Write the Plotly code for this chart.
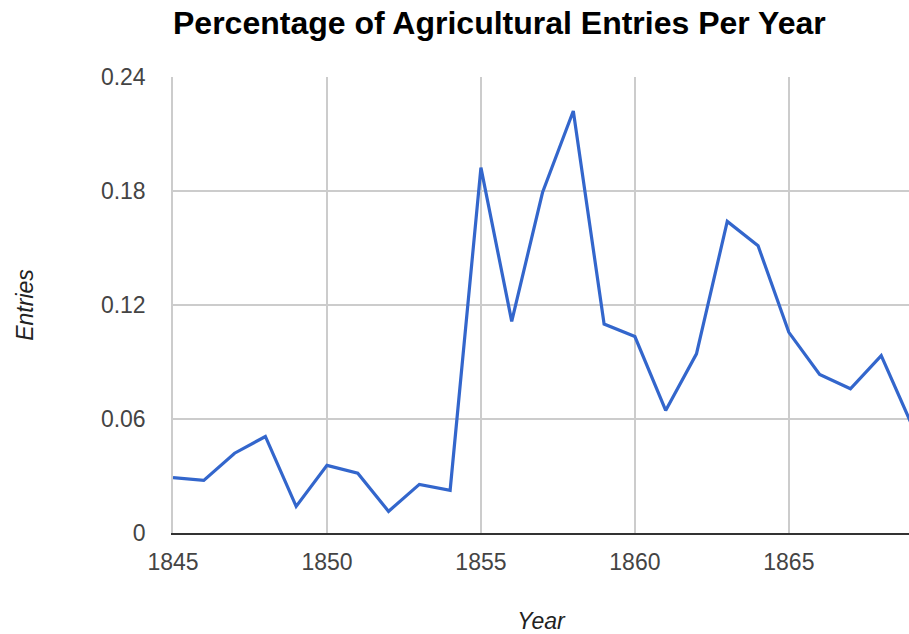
import plotly.graph_objects as go

years = list(range(1845, 1870))
entries = [0.0291, 0.0277, 0.0420, 0.0508, 0.0140, 0.0356, 0.0315, 0.0114, 0.0256, 0.0225,
           0.1923, 0.1114, 0.1792, 0.2221, 0.1100, 0.1034, 0.0645, 0.0943, 0.1640, 0.1512,
           0.1056, 0.0834, 0.0759, 0.0934, 0.0567]
x_ticks = [1845, 1850, 1855, 1860, 1865]
y_ticks = [0, 0.06, 0.12, 0.18, 0.24]
y_tick_labels = ["0", "0.06", "0.12", "0.18", "0.24"]

FONT = "Arial, Liberation Sans, sans-serif"

fig = go.Figure()
fig.add_trace(go.Scatter(x=years, y=entries, mode="lines",
                         line=dict(color="#3366cc", width=3.2), hoverinfo="x+y"))

fig.update_layout(
    width=909, height=634,
    margin=dict(l=173, r=0, t=77, b=101),
    paper_bgcolor="white", plot_bgcolor="white",
    showlegend=False,
    title=dict(text="<b>Percentage of Agricultural Entries Per Year</b>",
               font=dict(family=FONT, size=32, color="#000"),
               x=173/909, xanchor="left", xref="container",
               y=1-23/634, yanchor="middle", yref="container"),
    font=dict(family=FONT),
)
fig.update_xaxes(range=[1845, 1845 + (909-173.3)/30.78],
                 tickvals=x_ticks, ticktext=[str(v) for v in x_ticks],
                 showgrid=True, gridcolor="#cccccc", gridwidth=1.5,
                 zeroline=False, showline=True, linecolor="#333333", linewidth=2,
                 ticks="", ticklabelstandoff=7, automargin=False,
                 tickfont=dict(family=FONT, size=23, color="#444"),
                 title=dict(text="<i>Year</i>", font=dict(family=FONT, size=23, color="#222"),
                            standoff=48))
fig.update_yaxes(range=[0, 0.24], tickvals=y_ticks, ticktext=y_tick_labels,
                 showgrid=True, gridcolor="#cccccc", gridwidth=1.5,
                 zeroline=False, showline=True, linecolor="#cccccc", linewidth=1.5,
                 ticks="", ticklabelstandoff=21, automargin=False,
                 tickfont=dict(family=FONT, size=23, color="#444"),
                 title=dict(text="<i>Entries</i>", font=dict(family=FONT, size=23, color="#222"),
                            standoff=61))

fig.write_html("out.html")
